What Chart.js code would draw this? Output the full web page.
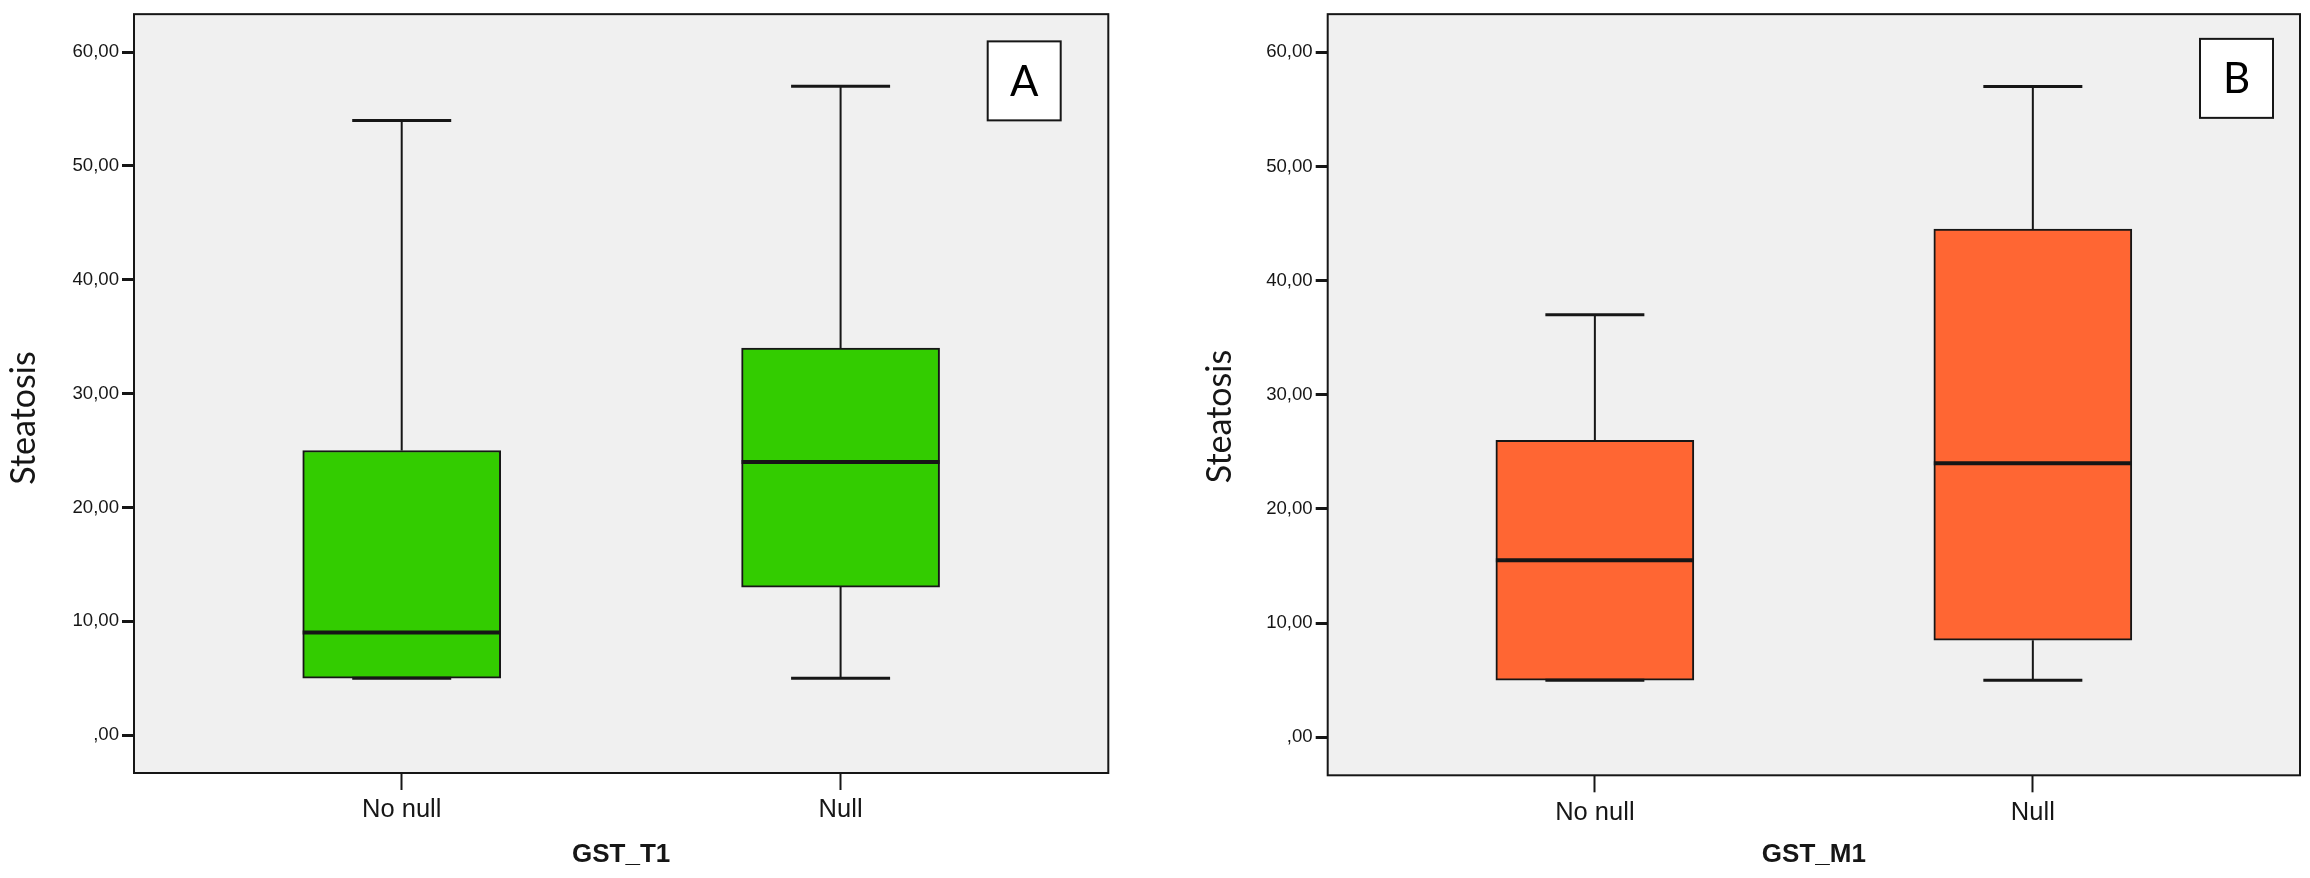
<!DOCTYPE html>
<html>
<head>
<meta charset="utf-8">
<title>Steatosis by GST_T1 and GST_M1</title>
<script src="https://cdn.jsdelivr.net/npm/chart.js@4.4.1/dist/chart.umd.min.js"></script>
<style>
  html, body { margin: 0; padding: 0; background: #fff; }
  body { width: 2310px; height: 878px; position: relative; overflow: hidden; }
  canvas { position: absolute; top: 0; }
  #chartA { left: 0; }
  #chartB { left: 1197px; }
</style>
</head>
<body>
<canvas id="chartA" width="1110" height="878"></canvas>
<canvas id="chartB" width="1113" height="878"></canvas>
<script>
// values
const categories = ['No null', 'Null'];
const yTitle = 'Steatosis';
const yTickValues = [0, 10, 20, 30, 40, 50, 60];
const yTickLabels = [',00', '10,00', '20,00', '30,00', '40,00', '50,00', '60,00'];

// GST_T1 (panel A)
const t1Min = [5, 5];
const t1Q1 = [5, 13];
const t1Median = [9, 24];
const t1Q3 = [25, 34];
const t1Max = [54, 57];

// GST_M1 (panel B)
const m1Min = [5, 5];
const m1Q1 = [5, 8.5];
const m1Median = [15.5, 24];
const m1Q3 = [26, 44.5];
const m1Max = [37, 57];

const INK = '#161616';
const SANS = '"Liberation Sans", Arial, Helvetica, sans-serif';
const TITLE_FONT = 'Lato, "Open Sans", sans-serif';

// whiskers, caps, medians, frame and the panel letter
const boxPlotPlugin = {
  id: 'boxPlot',
  beforeDraw(chart) {
    const { ctx, chartArea: a } = chart;
    ctx.save();
    ctx.fillStyle = '#f0f0f0';
    ctx.fillRect(a.left, a.top, a.right - a.left, a.bottom - a.top);
    ctx.restore();
  },
  afterDatasetsDraw(chart) {
    const o = chart.options.plugins.boxPlot;
    const x = chart.scales.x, y = chart.scales.y;
    const bars = chart.getDatasetMeta(0).data;
    const ctx = chart.ctx;
    ctx.save();
    ctx.strokeStyle = INK;
    o.median.forEach((m, i) => {
      const cx = x.getPixelForValue(i);
      const half = bars[i].width / 2;
      const cap = half / 2;
      ctx.lineWidth = 2;
      ctx.beginPath();
      ctx.moveTo(cx, y.getPixelForValue(o.q3[i]));
      ctx.lineTo(cx, y.getPixelForValue(o.max[i]));
      ctx.moveTo(cx, y.getPixelForValue(o.q1[i]));
      ctx.lineTo(cx, y.getPixelForValue(o.min[i]));
      ctx.stroke();

      ctx.lineWidth = 3;
      ctx.beginPath();
      [o.max[i], o.min[i]].forEach(v => {
        const py = y.getPixelForValue(v);
        ctx.moveTo(cx - cap, py);
        ctx.lineTo(cx + cap, py);
      });
      ctx.stroke();

      ctx.lineWidth = 4;
      ctx.beginPath();
      const my = y.getPixelForValue(m);
      ctx.moveTo(cx - half, my);
      ctx.lineTo(cx + half, my);
      ctx.stroke();
    });
    ctx.restore();
  },
  afterDraw(chart) {
    const o = chart.options.plugins.boxPlot;
    const { ctx, chartArea: a } = chart;
    ctx.save();
    ctx.strokeStyle = INK;
    ctx.lineWidth = 2;
    ctx.strokeRect(a.left, a.top, a.right - a.left, a.bottom - a.top);

    // y axis title
    ctx.fillStyle = INK;
    ctx.font = '34px ' + TITLE_FONT;
    ctx.textAlign = 'center';
    ctx.textBaseline = 'middle';
    ctx.translate(o.titleX, (a.top + a.bottom) / 2 + o.titleShift);
    ctx.rotate(-Math.PI / 2);
    ctx.fillText(yTitle, 0, 0);
    ctx.setTransform(1, 0, 0, 1, 0, 0);

    // panel letter
    const bx = a.right - o.letterRight - 73;
    const by = a.top + o.letterTop;
    ctx.fillStyle = '#fff';
    ctx.fillRect(bx, by, 73, 79);
    ctx.strokeRect(bx, by, 73, 79);
    ctx.fillStyle = '#000';
    ctx.font = '42px ' + TITLE_FONT;
    ctx.fillText(o.letter, bx + 36.5, by + 41);
    ctx.restore();
  }
};

function makeChart(id, name, color, stats, frame) {
  return new Chart(document.getElementById(id), {
    type: 'bar',
    data: {
      datasets: [{
        label: name,
        data: categories.map((c, i) => ({ x: i, y: [stats.q1[i], stats.q3[i]] })),
        backgroundColor: color,
        borderColor: INK,
        borderWidth: 2,
        borderSkipped: false,
        barThickness: 198
      }]
    },
    options: {
      responsive: false,
      animation: false,
      devicePixelRatio: 1,
      layout: { padding: { top: frame.top, right: frame.right, left: 0, bottom: 0 } },
      plugins: {
        legend: { display: false },
        tooltip: { enabled: false },
        boxPlot: Object.assign({}, stats, frame)
      },
      scales: {
        x: {
          type: 'linear',
          min: -0.61,
          max: 1.61,
          offset: false,
          border: { display: false },
          grid: { offset: false, drawOnChartArea: false, drawTicks: true, tickLength: 17, tickWidth: 2, tickColor: INK },
          afterBuildTicks: s => { s.ticks = categories.map((c, i) => ({ value: i })); },
          afterFit: s => { s.height = frame.xAxisHeight; },
          ticks: {
            callback: v => categories[v],
            autoSkip: false,
            maxRotation: 0,
            padding: 5,
            color: INK,
            font: { family: SANS, size: 25.5 }
          },
          title: {
            display: true,
            text: name,
            color: INK,
            font: { family: SANS, size: 26, weight: 'bold', lineHeight: 1 },
            padding: { top: 0, bottom: 10 }
          }
        },
        y: {
          min: -10 / 3,
          max: 190 / 3,
          border: { display: false },
          grid: { drawOnChartArea: false, drawTicks: true, tickLength: 12, tickWidth: 3, tickColor: INK },
          afterBuildTicks: s => { s.ticks = yTickValues.map(v => ({ value: v })); },
          afterFit: s => { s.width = frame.yAxisWidth; },
          ticks: {
            callback: v => yTickLabels[yTickValues.indexOf(v)],
            padding: 3,
            color: INK,
            font: { family: SANS, size: 18.6 }
          }
        }
      }
    },
    plugins: [boxPlotPlugin]
  });
}

makeChart('chartA', 'GST_T1', '#33cc00',
  { min: t1Min, q1: t1Q1, median: t1Median, q3: t1Q3, max: t1Max },
  { top: 9.5, right: 1.7, xAxisHeight: 105, yAxisWidth: 134, titleX: 24, titleShift: 24.5,
    letter: 'A', letterRight: 47.6, letterTop: 27.2 });

makeChart('chartB', 'GST_M1', '#ff6633',
  { min: m1Min, q1: m1Q1, median: m1Median, q3: m1Q3, max: m1Max },
  { top: 12, right: 10, xAxisHeight: 102.7, yAxisWidth: 130.7, titleX: 23, titleShift: 21.8,
    letter: 'B', letterRight: 27, letterTop: 24.7 });
</script>
</body>
</html>
